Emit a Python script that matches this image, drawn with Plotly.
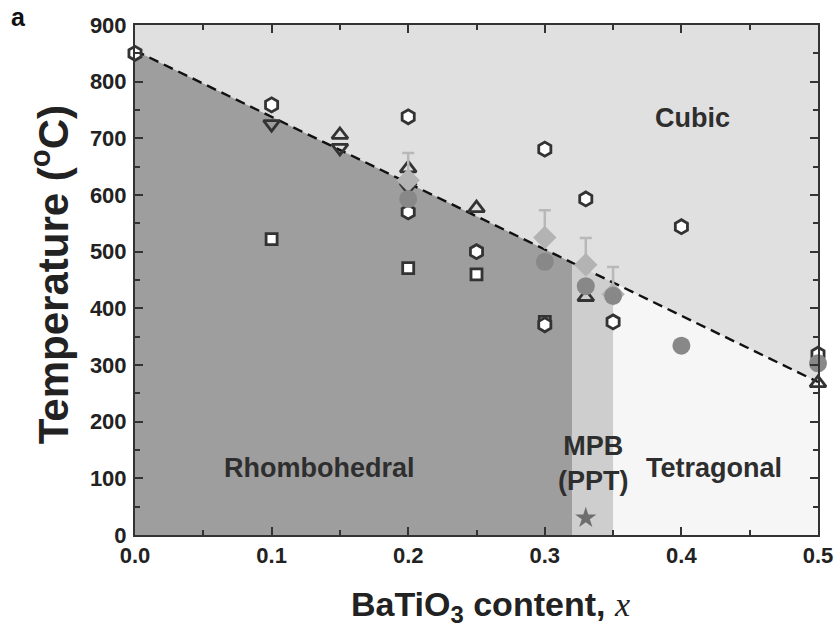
import plotly.graph_objects as go

# ---- data ----
hex_x = [0.0, 0.1, 0.2, 0.2, 0.25, 0.3, 0.3, 0.33, 0.35, 0.4, 0.5]
hex_y = [850, 759, 738, 570, 500, 681, 371, 593, 376, 544, 319]
dtri_x = [0.1, 0.15, 0.2]
dtri_y = [725, 683, 614]
utri_x = [0.15, 0.2, 0.25, 0.33, 0.5]
utri_y = [706, 647, 577, 420, 268]
sq_x = [0.1, 0.2, 0.25, 0.3]
sq_y = [522, 471, 460, 376]
circ_x = [0.2, 0.3, 0.33, 0.35, 0.4, 0.5]
circ_y = [593, 482, 439, 422, 334, 303]
dia_x = [0.2, 0.3, 0.33, 0.35]
dia_y = [626, 525, 477, 425]
dia_err = [48, 48, 47, 48]
star_x = [0.33]
star_y = [30]
# Curie line endpoints and phase boundaries
tc_x = [0.0, 0.5]
tc_y = [855, 270]
mpb_bounds = [0.32, 0.35]
x_ticks = [0, 0.1, 0.2, 0.3, 0.4, 0.5]
x_ticktext = ["0.0", "0.1", "0.2", "0.3", "0.4", "0.5"]
y_ticks = list(range(0, 901, 100))


def tc(x):
    return tc_y[0] + (tc_y[1] - tc_y[0]) * (x - tc_x[0]) / (tc_x[1] - tc_x[0])


SANS = "Liberation Sans, Arial, sans-serif"
fig = go.Figure()

# regions
x0, x1 = mpb_bounds
regions = [
    ([tc_x[0], tc_x[0], x0, x0], [0, tc(tc_x[0]), tc(x0), 0], "#9e9e9e"),
    ([x0, x0, x1, x1], [0, tc(x0), tc(x1), 0], "#cecece"),
    ([x1, x1, tc_x[1], tc_x[1]], [0, tc(x1), tc(tc_x[1]), 0], "#f6f6f6"),
]
for rx, ry, col in regions:
    fig.add_trace(go.Scatter(x=rx, y=ry, fill="toself", fillcolor=col, mode="none",
                             hoverinfo="skip", showlegend=False))

fig.add_trace(go.Scatter(x=tc_x, y=tc_y, mode="lines",
                         line=dict(color="#111", width=2.4, dash="10px,6px"), showlegend=False))

ol = dict(color="#333", width=2.8)
common = dict(mode="markers", showlegend=False, cliponaxis=False)
fig.add_trace(go.Scatter(x=sq_x, y=sq_y,
                         marker=dict(symbol="square", size=11, color="white", line=ol), **common))
fig.add_trace(go.Scatter(x=hex_x, y=hex_y,
                         marker=dict(symbol="hexagon", size=14, color="white", line=ol), **common))
fig.add_trace(go.Scatter(x=dtri_x, y=dtri_y,
                         marker=dict(symbol="triangle-down", size=14, color="rgba(0,0,0,0)", line=ol), **common))
fig.add_trace(go.Scatter(x=utri_x, y=utri_y,
                         marker=dict(symbol="triangle-up", size=14, color="rgba(0,0,0,0)", line=ol), **common))
fig.add_trace(go.Scatter(x=dia_x, y=dia_y,
                         marker=dict(symbol="diamond", size=18, color="#b3b3b3"),
                         error_y=dict(type="data", symmetric=False, array=dia_err,
                                      arrayminus=[0] * len(dia_err), color="#b8b8b8",
                                      thickness=2.5, width=6),
                         **common))
fig.add_trace(go.Scatter(x=circ_x, y=circ_y,
                         marker=dict(symbol="circle", size=18, color="#888888"), **common))
fig.add_trace(go.Scatter(x=star_x, y=star_y,
                         marker=dict(symbol="star", size=16, color="#6e6e6e"), **common))

axis_common = dict(showline=True, linecolor="#333", linewidth=2, mirror="ticks",
                   ticks="inside", tickcolor="#333", tickwidth=2, ticklen=8,
                   showgrid=False, zeroline=False, automargin=False,
                   tickfont=dict(family=SANS, size=22, color="#222", weight="bold"))
fig.update_xaxes(range=[0, 0.5], tickvals=x_ticks, ticktext=x_ticktext,
                 minor=dict(ticks="inside", tickvals=[0.05, 0.15, 0.25, 0.35, 0.45],
                            ticklen=5, tickcolor="#333", tickwidth=2),
                 **axis_common)
fig.update_yaxes(range=[0, 900], tickvals=y_ticks, ticklabelstandoff=2,
                 minor=dict(ticks="inside", tickvals=list(range(50, 900, 100)),
                            ticklen=5, tickcolor="#333", tickwidth=2),
                 **axis_common)

# axis titles
fig.add_annotation(xref="paper", yref="paper", x=0.521, y=-0.141, showarrow=False,
                   xanchor="center", yanchor="middle",
                   text="BaTiO<sub>3</sub> content, <span style='font-family:Liberation Serif,Times New Roman,serif;font-style:italic;font-weight:normal'>x</span>",
                   font=dict(family=SANS, size=34, color="#222", weight="bold"))
fig.add_annotation(xref="paper", yref="paper", x=-0.124, y=0.51, showarrow=False, textangle=-90,
                   xanchor="center", yanchor="middle",
                   text="Temperature (<sup>o</sup>C)",
                   font=dict(family=SANS, size=42, color="#222", weight="bold"))

ann_font = dict(family=SANS, size=27, color="#2e2e2e", weight="bold")
fig.add_annotation(x=0.408, y=736, text="Cubic", showarrow=False, font=ann_font)
fig.add_annotation(x=0.135, y=118, text="Rhombohedral", showarrow=False, font=ann_font)
fig.add_annotation(x=0.336, y=127, text="MPB<br>(PPT)", showarrow=False, font=ann_font)
fig.add_annotation(x=0.424, y=118, text="Tetragonal", showarrow=False, font=ann_font)
fig.add_annotation(xref="paper", yref="paper", x=-0.171, y=1.047, text="a", showarrow=False,
                   xanchor="center", yanchor="top",
                   font=dict(family=SANS, size=25, color="#111", weight="bold"))

fig.update_layout(width=835, height=627, margin=dict(l=135, r=17, t=25, b=92),
                  plot_bgcolor="#e0e0e0", paper_bgcolor="white")
fig.write_html("out.html", config={"displayModeBar": False},
               post_script="document.body.style.margin='0';document.body.style.padding='0';")
